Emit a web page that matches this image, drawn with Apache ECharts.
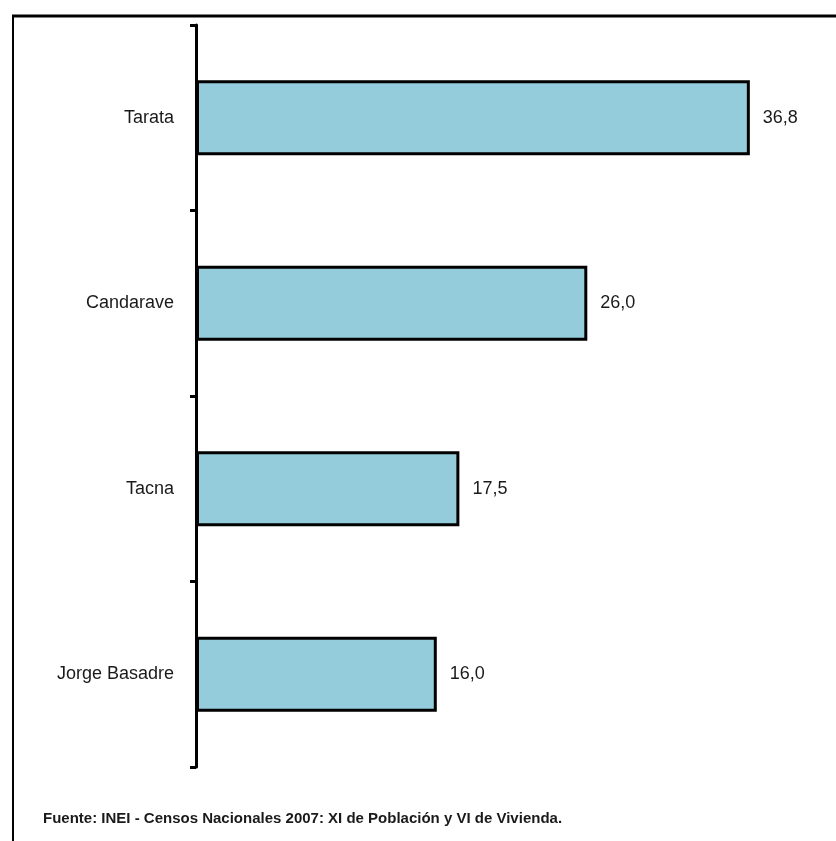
<!DOCTYPE html>
<html>
<head>
<meta charset="utf-8">
<script src="https://cdn.jsdelivr.net/npm/echarts@6/dist/echarts.min.js"></script>
<style>
html,body{margin:0;padding:0;background:#fff;}
#chart{width:836px;height:841px;}
</style>
</head>
<body>
<div id="chart"></div>
<script>
var categories = ['Tarata', 'Candarave', 'Tacna', 'Jorge Basadre'];
var values = [36.8, 26.0, 17.5, 16.0];
var footnote = 'Fuente: INEI - Censos Nacionales 2007: XI de Población y VI de Vivienda.';

var chart = echarts.init(document.getElementById('chart'));
chart.setOption({
  animation: false,
  backgroundColor: '#ffffff',
  grid: { left: 196, right: 38, top: 25, bottom: 74, containLabel: false },
  xAxis: {
    type: 'value', min: 0, max: 40, show: false
  },
  yAxis: {
    type: 'category',
    data: categories,
    inverse: true,
    axisLine: { show: true, lineStyle: { color: '#000', width: 3 } },
    axisTick: { show: true, length: 6, lineStyle: { color: '#000', width: 3 } },
    axisLabel: { margin: 22, fontFamily: 'Liberation Sans, Arial, sans-serif', fontSize: 18, color: '#1a1a1a' },
    splitLine: { show: false }
  },
  series: [{
    type: 'bar',
    data: values,
    barWidth: '40.5%',
    itemStyle: { color: '#95CCDC', borderColor: '#000', borderWidth: 3 },
    label: {
      show: true, position: 'right', distance: 13,
      fontFamily: 'Liberation Sans, Arial, sans-serif', fontSize: 18, color: '#1a1a1a',
      formatter: function (p) { return p.value.toFixed(1).replace('.', ','); }
    }
  }],
  graphic: [
    { type: 'line', shape: { x1: 12, y1: 16, x2: 836, y2: 16 }, style: { stroke: '#000', lineWidth: 3 } },
    { type: 'line', shape: { x1: 13, y1: 16, x2: 13, y2: 841 }, style: { stroke: '#000', lineWidth: 2 } },
    { type: 'text', left: 43, top: 811, style: { text: footnote, font: 'bold 15px "Liberation Sans", Arial, sans-serif', fill: '#1a1a1a' } }
  ]
});
</script>
</body>
</html>
